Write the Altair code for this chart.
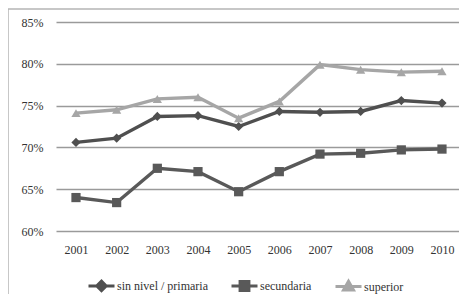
import altair as alt
import pandas as pd

years = ["2001", "2002", "2003", "2004", "2005", "2006", "2007", "2008", "2009", "2010"]
series = ["sin nivel / primaria", "secundaria", "superior"]
sin_nivel = [0.706, 0.711, 0.737, 0.738, 0.725, 0.743, 0.742, 0.743, 0.756, 0.753]
secundaria = [0.640, 0.634, 0.675, 0.671, 0.647, 0.671, 0.692, 0.693, 0.697, 0.698]
superior = [0.741, 0.745, 0.758, 0.760, 0.735, 0.755, 0.799, 0.793, 0.790, 0.791]
colors = ["#4f4f4f", "#595959", "#a6a6a6"]
y_ticks = [0.60, 0.65, 0.70, 0.75, 0.80, 0.85]

rows = []
for name, vals in zip(series, [sin_nivel, secundaria, superior]):
    for yr, v in zip(years, vals):
        rows.append({"year": yr, "serie": name, "value": v})
df = pd.DataFrame(rows)

FONT = "Liberation Serif"

x_enc = alt.X("year:O", sort=years,
              scale=alt.Scale(type="point", padding=0.455, align=0.54),
              axis=alt.Axis(title=None, labelAngle=0, ticks=False, domain=False, grid=False,
                            labelFont=FONT, labelFontSize=12, labelColor="#333333",
                            labelPadding=13))
y_enc = alt.Y("value:Q",
              scale=alt.Scale(domain=[0.60, 0.85], nice=False, zero=False),
              axis=alt.Axis(title=None, values=y_ticks, format=".0%", ticks=False, domain=False,
                            grid=True, gridColor="#9a9a9a", gridWidth=1.5,
                            labelFont=FONT, labelFontSize=12, labelColor="#333333",
                            labelPadding=13))
color_scale = alt.Scale(domain=series, range=colors)
color_enc = alt.Color("serie:N", scale=color_scale, legend=None)

base = alt.Chart(df)

lines = base.mark_line(strokeWidth=3.4).encode(x=x_enc, y=y_enc, color=color_enc)

pts = base.mark_point(filled=True, size=85, opacity=1).encode(
    x=x_enc, y=y_enc, color=color_enc,
    shape=alt.Shape("serie:N", scale=alt.Scale(domain=series, range=["diamond", "square", "triangle-up"]),
                    legend=None))

# legend glyphs: a line segment with a solid marker (nested outlines make it solid)
leg_paths = [
    "M-1,0H1M-0.36,0L0,-0.36L0.36,0L0,0.36ZM-0.22,0L0,-0.22L0.22,0L0,0.22ZM-0.08,0L0,-0.08L0.08,0L0,0.08Z",
    "M-1,0H1M-0.34,-0.34H0.34V0.34H-0.34ZM-0.2,-0.2H0.2V0.2H-0.2ZM-0.06,-0.06H0.06V0.06H-0.06Z",
    "M-1,0H1M0,-0.4L0.38,0.26H-0.38ZM0,-0.22L0.2,0.14H-0.2ZM0,-0.06L0.05,0.04H-0.05Z",
]


def make_legend():
    return alt.Legend(title=None, orient="none", direction="horizontal",
                      legendX=31, legendY=249, padding=0,
                      symbolSize=676, symbolStrokeWidth=3, symbolOpacity=1,
                      symbolFillColor="transparent",
                      labelFont=FONT, labelFontSize=12, labelColor="#333333",
                      labelOffset=1, columnPadding=17)


leg = base.mark_point(filled=False, opacity=0, size=676, strokeWidth=3).encode(
    x=x_enc, y=y_enc,
    color=alt.Color("serie:N", scale=color_scale, legend=make_legend()),
    shape=alt.Shape("serie:N", scale=alt.Scale(domain=series, range=leg_paths),
                    legend=make_legend()))

frame_data = alt.Data(values=[{"a": 1}])
top_border = alt.Chart(frame_data).mark_rule(color="#b5b5b5", strokeWidth=1.5).encode(
    x=alt.value(-48), x2=alt.value(420), y=alt.value(-13))
left_border = alt.Chart(frame_data).mark_rule(color="#b5b5b5", strokeWidth=1.5).encode(
    x=alt.value(-48), y=alt.value(-13), y2=alt.value(290))

chart = alt.layer(top_border, left_border, lines, pts, leg).resolve_scale(
    shape="independent", color="independent"
).resolve_legend(
    shape="independent", color="independent"
).properties(
    width=403, height=209,
    autosize=alt.AutoSizeParams(type="none"),
    padding={"left": 48, "top": 14, "right": 0, "bottom": 63},
).configure(font=FONT).configure_view(stroke=None)

chart.save("out.html", embed_options={"renderer": "svg", "actions": False})
